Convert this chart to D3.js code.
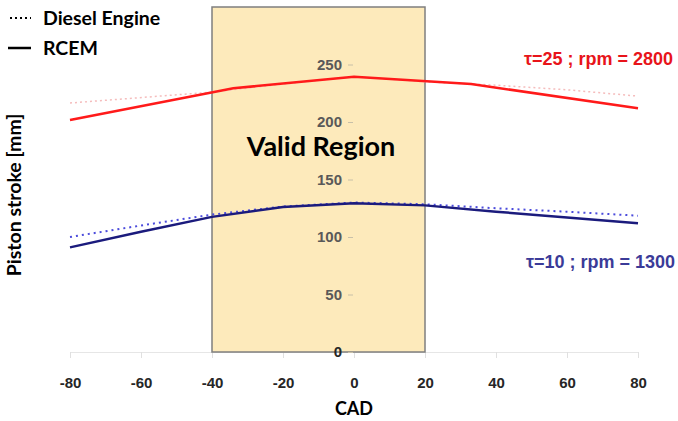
<!DOCTYPE html>
<html>
<head>
<meta charset="utf-8">
<script src="https://cdn.jsdelivr.net/npm/d3@7"></script>
<style>
  body { margin: 0; background: #fff; }
  svg { display: block; }
</style>
</head>
<body>
<div id="chart"></div>
<script>
// Data
const xTicks = [-80, -60, -40, -20, 0, 20, 40, 60, 80];
const yTicks = [0, 50, 100, 150, 200, 250];
const validRegion = [-40, 20];
const validTop = 300;

const redCad = [-80, -34, 0, 33, 80];
const redRcem = [201.7, 229.3, 239.4, 233, 212];
const redDieselCad = [-80, -40, -20, 0, 20, 40, 60, 80];
const redDiesel = [216.5, 226, 233, 239.5, 235, 232, 228, 222.5];

const blueCad = [-80, -60, -40, -20, 0, 20, 40, 60, 80];
const blueRcem = [91, 104.5, 117.5, 126, 129.3, 127.5, 122, 117, 112];
const blueDiesel = [100, 110, 119.5, 126.5, 130, 128.5, 125, 122, 118.5];

const width = 678, height = 421;

const svg = d3.select("#chart")
  .append("svg")
  .attr("width", width)
  .attr("height", height);

// Scales
const x = d3.scaleLinear().domain([-80, 80]).range([70, 638]);
const y = d3.scaleLinear().domain([0, 250]).range([352, 64.5]);

// X axis
const xAxis = svg.append("g")
  .attr("transform", `translate(0,${y(0)})`)
  .call(d3.axisBottom(x).tickValues(xTicks).tickSizeInner(6).tickSizeOuter(0).tickPadding(19));
xAxis.select(".domain").attr("stroke", "#e6e6e6");
xAxis.selectAll(".tick line").attr("stroke", "#e0e0e0");
xAxis.selectAll(".tick text")
  .attr("fill", "#262626")
  .style("font", "bold 15px Arial, 'Liberation Sans', sans-serif")
  .text(d => d);

// Valid region box
svg.append("rect")
  .attr("x", x(validRegion[0]))
  .attr("y", y(validTop))
  .attr("width", x(validRegion[1]) - x(validRegion[0]))
  .attr("height", y(0) - y(validTop))
  .attr("fill", "#fdeabb")
  .attr("stroke", "#7f7f7f")
  .attr("stroke-width", 1.5);

// Lines
const line = d3.line()
  .x(d => x(d[0]))
  .y(d => y(d[1]));

svg.append("path")
  .datum(d3.zip(redDieselCad, redDiesel))
  .attr("fill", "none")
  .attr("stroke", "#f5bcbc")
  .attr("stroke-width", 1.5)
  .attr("stroke-dasharray", "2,3")
  .attr("d", line);

svg.append("path")
  .datum(d3.zip(redCad, redRcem))
  .attr("fill", "none")
  .attr("stroke", "#ff1a1a")
  .attr("stroke-width", 2.5)
  .attr("d", line);

svg.append("path")
  .datum(d3.zip(blueCad, blueDiesel))
  .attr("fill", "none")
  .attr("stroke", "#4b4bdc")
  .attr("stroke-width", 2)
  .attr("stroke-dasharray", "2,4")
  .attr("d", line);

svg.append("path")
  .datum(d3.zip(blueCad, blueRcem))
  .attr("fill", "none")
  .attr("stroke", "#1b1b7d")
  .attr("stroke-width", 2.5)
  .attr("d", line);

// Y axis sits at CAD = 0
const yAxis = svg.append("g")
  .attr("transform", `translate(${x(0) - 1},0)`)
  .call(d3.axisLeft(y).tickValues(yTicks).tickSizeInner(5).tickSizeOuter(0).tickPadding(6));
yAxis.select(".domain").remove();
yAxis.selectAll(".tick line").attr("stroke", "#c8c0a8");
yAxis.selectAll(".tick text")
  .attr("fill", "#595959")
  .style("font", "bold 15px Arial, 'Liberation Sans', sans-serif");
yAxis.selectAll(".tick text").filter(d => d === 0).attr("fill", "#262626");

// Region label
svg.append("text")
  .attr("x", 321)
  .attr("y", 156)
  .attr("text-anchor", "middle")
  .style("font", "bold 27px Lato, 'Open Sans', sans-serif")
  .attr("fill", "#000")
  .text("Valid Region");

// Axis titles
svg.append("text")
  .attr("x", x(0))
  .attr("y", 415)
  .attr("text-anchor", "middle")
  .style("font", "bold 18px Lato, 'Open Sans', sans-serif")
  .text("CAD");

svg.append("text")
  .attr("transform", "translate(21,195) rotate(-90)")
  .attr("text-anchor", "middle")
  .style("font", "bold 19.5px Lato, 'Open Sans', sans-serif")
  .text("Piston stroke [mm]");

// Series labels
svg.append("text")
  .attr("x", 673)
  .attr("y", 65)
  .attr("text-anchor", "end")
  .attr("fill", "#e8141a")
  .style("font", "bold 18px Arial, 'Liberation Sans', sans-serif")
  .text("τ=25 ; rpm = 2800");

svg.append("text")
  .attr("x", 675)
  .attr("y", 268)
  .attr("text-anchor", "end")
  .attr("fill", "#3b3b98")
  .style("font", "bold 18px Arial, 'Liberation Sans', sans-serif")
  .text("τ=10 ; rpm = 1300");

// Legend
const legend = svg.append("g");
legend.append("line")
  .attr("x1", 10).attr("x2", 31).attr("y1", 18).attr("y2", 18)
  .attr("stroke", "#000").attr("stroke-width", 2).attr("stroke-dasharray", "2,3");
legend.append("line")
  .attr("x1", 8).attr("x2", 31).attr("y1", 48).attr("y2", 48)
  .attr("stroke", "#000").attr("stroke-width", 2.5);
legend.append("text")
  .attr("x", 43).attr("y", 25)
  .style("font", "bold 19.5px Lato, 'Open Sans', sans-serif")
  .text("Diesel Engine");
legend.append("text")
  .attr("x", 43).attr("y", 55)
  .style("font", "bold 19.5px Lato, 'Open Sans', sans-serif")
  .text("RCEM");
</script>
</body>
</html>
